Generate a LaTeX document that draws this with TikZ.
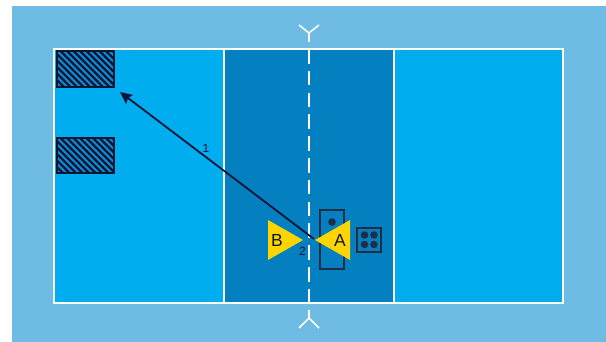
\documentclass[tikz,border=0pt]{standalone}
\usepackage{fontspec}
\setmainfont{Liberation Sans}
\definecolor{outer}{HTML}{6EBBE4}
\definecolor{side}{HTML}{00ADEF}
\definecolor{mid}{HTML}{0480C1}
\definecolor{ink}{HTML}{0B1535}
\definecolor{hatchbg}{HTML}{0B8FD2}
\definecolor{gold}{HTML}{FFD500}
\definecolor{boxline}{HTML}{1E2F45}
\begin{document}
\begin{tikzpicture}[x=1pt,y=-1pt,
  courtline/.style={draw=white,line width=1.9pt},
  hatchbox/.style={fill=hatchbg},
  hatchframe/.style={draw=ink,line width=1.7pt},
  player/.style={fill=gold,draw=none},
  obj/.style={draw=boxline,line width=1.8pt},
  dot/.style={fill=boxline,draw=none},
  ymark/.style={draw=white,line width=1.6pt},
  lab/.style={font=\fontsize{12}{14}\selectfont,text=ink,inner sep=0pt},
  big/.style={font=\fontsize{17.5}{20}\selectfont,text=ink,inner sep=0pt}]
\useasboundingbox (0,0) rectangle (606,342);
\fill[white] (0,0) rectangle (606,342);
\fill[outer] (12,6) rectangle (606,342);
\fill[side] (54,49) rectangle (563,303);
\fill[mid] (224,49) rectangle (394,303);
\draw[courtline] (54,49) rectangle (563,303);
\draw[courtline] (224,49) -- (224,303);
\draw[courtline] (394,49) -- (394,303);
\coordinate (nettop) at (309,49);
\coordinate (netbot) at (309,303);
\draw[draw=white,line width=2pt,dash pattern=on 14.7pt off 7.1pt] (nettop) -- (netbot);
% end marks
\coordinate (t0) at (309,42);\coordinate (t1) at (309,33);\coordinate (t2) at (299,25);\coordinate (t3) at (319,25);
\draw[ymark] (t0) -- (t1) (t2) -- (t1) -- (t3);
\coordinate (b0) at (309,310);\coordinate (b1) at (309,318);\coordinate (b2) at (299,328);\coordinate (b3) at (319,328);
\draw[ymark] (b0) -- (b1) (b2) -- (b1) -- (b3);
% hatched boxes
\foreach \yy/\hh in {51/36,138/35}{
  \fill[hatchbox] (57,\yy) rectangle (114,\yy+\hh);
  \begin{scope}
    \clip (57,\yy) rectangle (114,\yy+\hh);
    \foreach \k in {-42,-35.5,...,70}{
      \draw[ink,line width=2.2pt] (57+\k,\yy) -- (57+\k+40,\yy+40);
    }
  \end{scope}
  \draw[hatchframe] (57,\yy) rectangle (114,\yy+\hh);
}
% objects
\draw[obj] (320,210) rectangle (344,269);
\fill[dot] (332,222) circle (3.8);
\draw[obj] (357,228) rectangle (381,252);
\foreach \px/\py in {364.5/235,374/235,364.5/244.5,374/244.5}{\fill[dot] (\px,\py) circle (3.8);}
% players
\path[player] (268,220) -- (303,240) -- (268,260) -- cycle;
\path[player] (350,220) -- (315,240) -- (350,260) -- cycle;
\node[big] (pb) at (277,240) {B};
\node[big] (pa) at (340,240) {A};
% pass
\coordinate (from) at (314,239);
\coordinate (to) at (120,92);
\draw[ink,line width=1.8pt] (from) -- (128,98);
\fill[ink] (to) -- (133,95) -- (128,98) -- (126,104) -- cycle;
\node[lab] (n1) at (206,148) {1};
\node[lab] (n2) at (302.5,251.5) {2};
\end{tikzpicture}
\end{document}
